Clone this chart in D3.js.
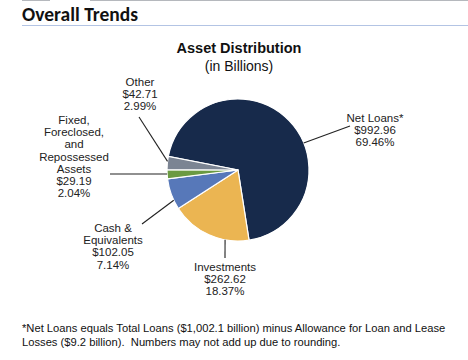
<!DOCTYPE html>
<html><head><meta charset="utf-8">
<script src="https://cdn.jsdelivr.net/npm/d3@7"></script>
<style>body{margin:0;background:#fff}svg{display:block}</style>
</head><body>
<script>
const categories = ["Net Loans*", "Investments", "Cash & Equivalents", "Fixed, Foreclosed, and Repossessed Assets", "Other"];
const values = [992.96, 262.62, 102.05, 29.19, 42.71];
const percents = ["69.46%", "18.37%", "7.14%", "2.04%", "2.99%"];
const labelLines = [["Net Loans*"], ["Investments"], ["Cash &", "Equivalents"], ["Fixed,", "Foreclosed,", "and", "Repossessed", "Assets"], ["Other"]];
const colors = ["#172a4b", "#ebb552", "#5778b9", "#6b9a42", "#7b8493"];

const W = 468, H = 360;
const svg = d3.select("body").append("svg").attr("width", W).attr("height", H);
const font = "'Liberation Sans', Arial, sans-serif";

// header
svg.append("line").attr("x1", 22).attr("x2", 50).attr("y1", 0.5).attr("y2", 0.5).attr("stroke", "#b5b8bd");
svg.append("line").attr("x1", 90).attr("x2", W).attr("y1", 0.5).attr("y2", 0.5).attr("stroke", "#b5b8bd");
svg.append("text").attr("x", 22).attr("y", 21).text("Overall Trends")
  .attr("font-family", "Carlito, Lato, 'Open Sans', sans-serif").attr("font-weight", "bold").attr("font-size", 19.5).attr("fill", "#111");
svg.append("line").attr("x1", 22).attr("x2", W).attr("y1", 25.5).attr("y2", 25.5).attr("stroke", "#b3c4e4").attr("stroke-width", 1.2);

// title
svg.append("text").attr("x", 239).attr("y", 53).attr("text-anchor", "middle").text("Asset Distribution")
  .attr("font-family", font).attr("font-weight", "bold").attr("font-size", 14.5).attr("fill", "#111");
svg.append("text").attr("x", 239).attr("y", 71).attr("text-anchor", "middle").text("(in Billions)")
  .attr("font-family", font).attr("font-size", 14).attr("fill", "#111");

const cx = 238, cy = 170, r = 71;
const start = -79 * Math.PI / 180;
const pie = d3.pie().sort(null).value(d => d).startAngle(start).endAngle(start + 2 * Math.PI);
const arcs = pie(values);
const arc = d3.arc().innerRadius(0).outerRadius(r);
const g = svg.append("g").attr("transform", `translate(${cx},${cy})`);
g.selectAll("path").data(arcs).join("path").attr("d", arc)
  .attr("fill", (d, i) => colors[i]).attr("stroke", "#fff").attr("stroke-width", 1.2);

// label placement: text anchor, leader outer end, leader angle on the pie edge (degrees clockwise from 12 o'clock)
const labelPos = [
  {x: 375, y: 122, lx: 350, ly: 126, ang: 67.6},
  {x: 225, y: 271, lx: 225, ly: 258, ang: 190.5},
  {x: 113, y: 232, lx: 142, ly: 224, ang: 244.8},
  {x: 74, y: 124, lx: 110, ly: 174, ang: 266.8},
  {x: 140, y: 86, lx: 139, ly: 117, ang: 277}
];
const fmt = d3.format(",.2f");
arcs.forEach((a, i) => {
  const p = labelPos[i];
  const t0 = p.ang * Math.PI / 180;
  const ex = cx + Math.sin(t0) * r, ey = cy - Math.cos(t0) * r;
  svg.append("line").attr("x1", p.lx).attr("y1", p.ly).attr("x2", ex).attr("y2", ey)
    .attr("stroke", "#222").attr("stroke-width", 1.1);
  const lines = labelLines[i].concat(["$" + fmt(values[i]), percents[i]]);
  const t = svg.append("text").attr("text-anchor", "middle").attr("font-family", font)
    .attr("font-size", 11.5).attr("fill", "#222");
  lines.forEach((s, k) => t.append("tspan").attr("x", p.x).attr("y", p.y + k * 12.2).text(s));
});

// footnote
const foot = ["*Net Loans equals Total Loans ($1,002.1 billion) minus Allowance for Loan and Lease",
  "Losses ($9.2 billion).  Numbers may not add up due to rounding."];
const ft = svg.append("text").attr("font-family", font).attr("font-size", 11.2).attr("fill", "#111");
foot.forEach((s, k) => ft.append("tspan").attr("x", 22).attr("y", 332 + k * 14).attr("xml:space", "preserve").text(s));
</script>
</body></html>
